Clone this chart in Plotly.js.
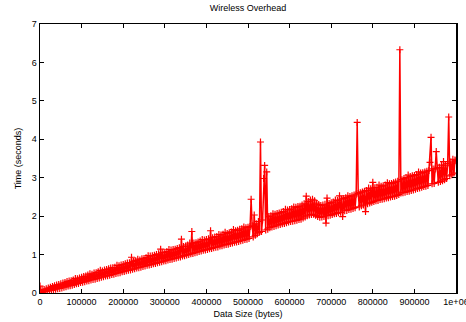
<!DOCTYPE html>
<html>
<head>
<meta charset="utf-8">
<script src="https://cdn.plot.ly/plotly-3.0.1.min.js"></script>
<style>html,body{margin:0;padding:0;background:#fff;}#chart{width:466px;height:322px;}</style>
</head>
<body>
<div id="chart"></div>
<script>
const chartTitle = 'Wireless Overhead';
const xTitle = 'Data Size (bytes)';
const yTitle = 'Time (seconds)';
const xTickVals = [0,100000,200000,300000,400000,500000,600000,700000,800000,900000,1000000];
const xTickText = ['0','100000','200000','300000','400000','500000','600000','700000','800000','900000','1e+06'];
const yTickVals = [0,1,2,3,4,5,6,7];

const dataSize = [
0,2500,5000,7500,10000,12500,15000,17500,20000,22500,
25000,27500,30000,32500,35000,37500,40000,42500,45000,47500,
50000,52500,55000,57500,60000,62500,65000,67500,70000,72500,
75000,77500,80000,82500,85000,87500,90000,92500,95000,97500,
100000,102500,105000,107500,110000,112500,115000,117500,120000,122500,
125000,127500,130000,132500,135000,137500,140000,142500,145000,147500,
150000,152500,155000,157500,160000,162500,165000,167500,170000,172500,
175000,177500,180000,182500,185000,187500,190000,192500,195000,197500,
200000,202500,205000,207500,210000,212500,215000,217500,220000,222500,
225000,227500,230000,232500,235000,237500,240000,242500,245000,247500,
250000,252500,255000,257500,260000,262500,265000,267500,270000,272500,
275000,277500,280000,282500,285000,287500,290000,292500,295000,297500,
300000,302500,305000,307500,310000,312500,315000,317500,320000,322500,
325000,327500,330000,332500,335000,337500,340000,342500,345000,347500,
350000,352500,355000,357500,360000,362500,365000,367500,370000,372500,
375000,377500,380000,382500,385000,387500,390000,392500,395000,397500,
400000,402500,405000,407500,410000,412500,415000,417500,420000,422500,
425000,427500,430000,432500,435000,437500,440000,442500,445000,447500,
450000,452500,455000,457500,460000,462500,465000,467500,470000,472500,
475000,477500,480000,482500,485000,487500,490000,492500,495000,497500,
500000,502500,505000,507500,510000,512500,515000,517500,520000,522500,
525000,527500,530000,532500,535000,537500,540000,542500,545000,547500,
550000,552500,555000,557500,560000,562500,565000,567500,570000,572500,
575000,577500,580000,582500,585000,587500,590000,592500,595000,597500,
600000,602500,605000,607500,610000,612500,615000,617500,620000,622500,
625000,627500,630000,632500,635000,637500,640000,642500,645000,647500,
650000,652500,655000,657500,660000,662500,665000,667500,670000,672500,
675000,677500,680000,682500,685000,687500,690000,692500,695000,697500,
700000,702500,705000,707500,710000,712500,715000,717500,720000,722500,
725000,727500,730000,732500,735000,737500,740000,742500,745000,747500,
750000,752500,755000,757500,760000,762500,765000,767500,770000,772500,
775000,777500,780000,782500,785000,787500,790000,792500,795000,797500,
800000,802500,805000,807500,810000,812500,815000,817500,820000,822500,
825000,827500,830000,832500,835000,837500,840000,842500,845000,847500,
850000,852500,855000,857500,860000,862500,865000,867500,870000,872500,
875000,877500,880000,882500,885000,887500,890000,892500,895000,897500,
900000,902500,905000,907500,910000,912500,915000,917500,920000,922500,
925000,927500,930000,932500,935000,937500,940000,942500,945000,947500,
950000,952500,955000,957500,960000,962500,965000,967500,970000,972500,
975000,977500,980000,982500,985000,987500,990000,992500,995000,997500,
1000000
];
const timeSec = [
0.18,0.01,0.08,0.02,0.09,0.04,0.11,0.05,0.13,0.06,
0.15,0.07,0.17,0.08,0.19,0.10,0.21,0.11,0.22,0.12,
0.24,0.13,0.26,0.15,0.27,0.16,0.30,0.18,0.31,0.19,
0.32,0.20,0.34,0.22,0.38,0.24,0.37,0.25,0.39,0.27,
0.41,0.28,0.43,0.29,0.44,0.31,0.47,0.32,0.50,0.34,
0.49,0.35,0.52,0.36,0.53,0.38,0.55,0.39,0.59,0.41,
0.57,0.42,0.60,0.44,0.61,0.45,0.63,0.46,0.65,0.48,
0.66,0.49,0.67,0.51,0.72,0.52,0.71,0.53,0.73,0.55,
0.74,0.56,0.76,0.58,0.78,0.59,0.79,0.60,0.93,0.62,
0.82,0.63,0.84,0.65,0.88,0.66,0.86,0.67,0.89,0.69,
0.90,0.70,0.92,0.72,0.97,0.73,0.96,0.74,0.97,0.76,
0.98,0.77,1.00,0.79,1.02,0.80,1.14,0.81,1.05,0.83,
1.06,0.84,1.08,0.86,1.13,0.87,1.12,0.88,1.13,0.90,
1.14,0.91,1.16,0.93,1.18,0.94,1.40,0.96,1.21,0.97,
1.22,0.99,1.25,1.00,1.30,1.02,1.60,1.03,1.30,1.05,
1.31,1.06,1.33,1.08,1.35,1.09,1.39,1.11,1.38,1.12,
1.39,1.13,1.41,1.15,1.62,1.16,1.44,1.18,1.46,1.19,
1.47,1.20,1.52,1.22,1.51,1.23,1.53,1.25,1.58,1.26,
1.55,1.27,1.57,1.29,1.59,1.30,1.65,1.32,1.62,1.33,
1.63,1.34,1.66,1.36,1.67,1.37,1.72,1.39,1.70,1.40,
1.71,1.42,1.73,2.44,1.75,1.46,2.03,1.50,1.80,1.54,
1.86,1.58,3.93,1.60,1.90,2.98,3.32,1.64,3.15,1.66,
1.99,1.70,2.01,1.72,2.06,1.73,2.05,1.75,2.07,1.77,
2.08,1.78,2.10,1.80,2.12,1.81,2.18,1.83,2.16,1.85,
2.17,1.86,2.19,1.87,2.24,1.88,2.23,1.89,2.25,1.91,
2.26,1.92,2.29,1.95,2.32,1.98,2.52,2.01,2.38,2.03,
2.42,2.04,2.44,2.05,2.40,2.02,2.34,1.99,2.30,1.97,
2.28,1.98,2.29,1.99,2.31,1.82,2.47,2.01,2.33,2.02,
2.35,2.04,2.37,2.06,2.42,2.07,2.41,2.09,2.53,2.10,
2.44,1.99,2.46,2.14,2.48,2.15,2.53,2.17,2.51,2.18,
2.53,2.20,2.55,2.22,2.57,4.44,2.59,2.24,2.61,2.27,
2.63,2.29,2.65,2.12,2.67,2.32,2.73,2.34,2.71,2.36,
2.88,2.38,2.74,2.40,2.75,2.41,2.81,2.43,2.78,2.44,
2.79,2.45,2.81,2.47,2.87,2.48,2.84,2.50,2.85,2.51,
2.87,2.52,2.89,2.54,2.91,2.56,6.33,2.60,2.95,2.61,
2.98,2.62,3.00,2.64,3.07,2.65,3.03,2.67,3.05,2.68,
3.06,2.70,3.08,2.72,3.15,2.73,3.12,2.75,3.13,2.77,
3.15,2.78,3.17,2.80,3.19,3.40,4.05,2.84,3.23,2.85,
3.23,3.68,3.25,2.88,3.27,2.90,3.33,2.92,3.42,2.95,
3.33,2.98,3.37,4.58,3.05,3.41,3.08,3.48,3.12,3.46,
3.44
];

const trace = {
  x: dataSize,
  y: timeSec,
  type: 'scatter',
  mode: 'lines+markers',
  line: {color: '#ff0000', width: 1.5},
  marker: {symbol: 'cross-thin', size: 5, color: '#ff0000', line: {color: '#ff0000', width: 1.2}},
  hoverinfo: 'skip',
  showlegend: false
};

const font = {family: 'Liberation Sans, Arial, sans-serif', size: 9, color: '#000'};
const layout = {
  width: 466, height: 322,
  margin: {l: 40, r: 10, t: 24, b: 29, pad: 0},
  paper_bgcolor: '#fff', plot_bgcolor: '#fff',
  font: font,
  title: {text: chartTitle, font: font, x: 0.532, xanchor: 'center', y: 0.975, yanchor: 'middle', yref: 'container'},
  xaxis: {
    range: [0, 1000000], tickvals: xTickVals, ticktext: xTickText,
    ticks: 'inside', ticklen: 4, tickcolor: '#000', tickwidth: 1,
    showline: true, linecolor: '#000', linewidth: 1, mirror: 'ticks',
    showgrid: false, zeroline: false, tickfont: font, ticklabeloverflow: 'allow',
    title: {text: xTitle, font: font, standoff: 4}
  },
  yaxis: {
    range: [0, 7], tickvals: yTickVals,
    ticks: 'inside', ticklen: 4, tickcolor: '#000', tickwidth: 1,
    showline: true, linecolor: '#000', linewidth: 1.5, mirror: 'ticks',
    showgrid: false, zeroline: false, tickfont: font,
    title: {text: yTitle, font: font, standoff: 8}
  }
};
Plotly.newPlot('chart', [trace], layout, {staticPlot: true, displayModeBar: false});
</script>
</body>
</html>
